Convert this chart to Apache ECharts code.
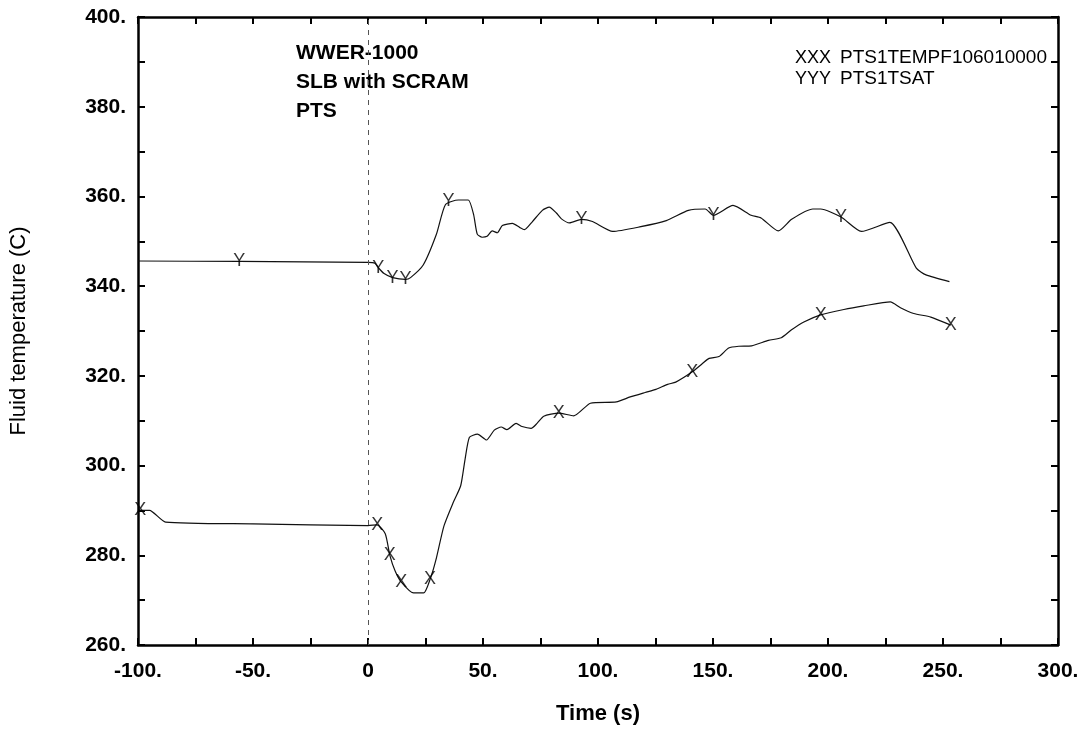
<!DOCTYPE html>
<html>
<head>
<meta charset="utf-8">
<script src="https://cdn.jsdelivr.net/npm/echarts@6/dist/echarts.min.js"></script>
<style>
html,body{margin:0;padding:0;background:#fff;}
#chart{width:1080px;height:730px;}
</style>
</head>
<body>
<div id="chart"></div>
<script>
// ---- data ----
const xTickValues = [-100, -50, 0, 50, 100, 150, 200, 250, 300];
const xTickLabels = ['-100.', '-50.', '0', '50.', '100.', '150.', '200.', '250.', '300.'];
const yTickValues = [260, 280, 300, 320, 340, 360, 380, 400];
const yTickLabels = ['260.', '280.', '300.', '320.', '340.', '360.', '380.', '400.'];

// PTS1TEMPF106010000 (XXX)
const timeF = [-99, -95, -88, -50, 0, 3.9, 7.5, 9.5, 11.8, 14.5, 19.8, 24.2, 27.1, 29.5, 33.0, 37.0, 40.3, 42.2, 44.1, 47.6, 51.5, 54.9, 57.9, 60.4, 64.4, 67, 70.9, 73.5, 76.4, 82.9, 89.5, 96.7, 108.0, 114.0, 120.5, 125.2, 130.3, 133.8, 141.0, 145.3, 148.3, 152.6, 156.8, 161.2, 166.8, 174.1, 179.7, 184.0, 189.5, 196.8, 206.9, 215.5, 227.1, 231.5, 237.3, 244.7, 253.4];
const tempF = [290.0, 290.0, 287.4, 287.0, 286.6, 286.8, 284.8, 280.0, 276.5, 274.0, 271.6, 271.6, 274.8, 278.9, 286.5, 291.7, 295.5, 301.4, 306.3, 307.0, 305.7, 307.9, 308.6, 308.0, 309.4, 308.7, 308.3, 309.4, 311.0, 311.7, 311.1, 313.9, 314.2, 315.3, 316.3, 317.0, 318.1, 318.6, 320.9, 322.7, 323.9, 324.3, 326.2, 326.6, 326.7, 327.9, 328.5, 330.2, 332.0, 333.6, 334.8, 335.6, 336.5, 335.2, 333.9, 333.1, 331.3];
const markTimeF = [-99, 4, 9.5, 14.5, 27, 82.9, 141.0, 196.8, 253.4];
const markTempF = [290.0, 286.8, 280.0, 274.0, 274.8, 311.7, 320.9, 333.6, 331.3];

// PTS1TSAT (YYY)
const timeS = [-100, -56, 0, 3, 4.5, 7, 10.7, 16.3, 18.5, 24.0, 29.7, 33.7, 39.3, 43.6, 45.9, 47.5, 49.6, 51.8, 54.0, 56.2, 58.4, 62.8, 65.9, 68, 71.5, 75.8, 78.8, 81.9, 84.1, 87.6, 92.8, 97.6, 106.4, 118.1, 129.7, 139.3, 146.6, 150.2, 158.7, 166.6, 170.9, 178.4, 184.2, 193.4, 196.8, 205.7, 214.5, 226.9, 238.4, 242.6, 252.8];
const tempS = [345.6, 345.5, 345.3, 345.1, 344.1, 342.8, 341.9, 341.5, 341.9, 344.7, 351.5, 358.2, 359.2, 359.2, 356.0, 351.6, 350.9, 351.1, 352.3, 351.9, 353.5, 354.0, 353.1, 352.6, 354.4, 356.9, 357.6, 356.3, 355.0, 354.1, 354.9, 354.4, 352.2, 353.2, 354.6, 356.9, 357.2, 355.8, 358.0, 355.8, 355.2, 352.3, 354.9, 357.2, 357.2, 355.4, 352.2, 354.2, 344.0, 342.5, 341.0];
const markTimeS = [-56, 4.5, 10.7, 16.3, 35.0, 92.8, 150.2, 205.7];
const markTempS = [345.5, 344.1, 341.9, 341.5, 358.9, 354.9, 355.8, 355.4];

const seriesNames = ['PTS1TEMPF106010000', 'PTS1TSAT'];
const annotation = ['WWER-1000', 'SLB with SCRAM', 'PTS'];

// ---- chart ----
const FONT = '"Liberation Sans", Arial, Helvetica, sans-serif';
const zip = (a, b) => a.map((v, i) => [v, b[i]]);

const axisLineStyle = { color: '#000', width: 2.5 };
const tickStyle = { show: true, inside: true, length: 7, lineStyle: { color: '#000', width: 2 } };

const chart = echarts.init(document.getElementById('chart'), null, { renderer: 'canvas' });

chart.setOption({
  animation: false,
  backgroundColor: '#fff',
  grid: { left: 138, right: 22, top: 17, bottom: 85, containLabel: false, outerBoundsMode: 'none' },
  xAxis: [{
    type: 'value', min: -100, max: 300, interval: 25, position: 'bottom',
    name: 'Time (s)', nameLocation: 'middle', nameGap: 58,
    nameTextStyle: { fontFamily: FONT, fontWeight: 'bold', fontSize: 22, color: '#000' },
    axisLine: { show: true, onZero: false, lineStyle: axisLineStyle },
    axisTick: tickStyle,
    splitLine: { show: false },
    axisLabel: {
      margin: 16, fontFamily: FONT, fontWeight: 'bold', fontSize: 21, color: '#000',
      formatter: v => { const i = xTickValues.indexOf(v); return i >= 0 ? xTickLabels[i] : ''; }
    }
  }, {
    type: 'value', min: -100, max: 300, interval: 25, position: 'top',
    axisLine: { show: true, onZero: false, lineStyle: axisLineStyle },
    axisTick: tickStyle, axisLabel: { show: false }, splitLine: { show: false }
  }],
  yAxis: [{
    type: 'value', min: 260, max: 400, interval: 10, position: 'left',
    name: 'Fluid temperature (C)', nameLocation: 'middle', nameGap: 108, nameRotate: 90,
    nameTextStyle: { fontFamily: FONT, fontSize: 22, color: '#000' },
    axisLine: { show: true, onZero: false, lineStyle: axisLineStyle },
    axisTick: tickStyle,
    splitLine: { show: false },
    axisLabel: {
      margin: 12, fontFamily: FONT, fontWeight: 'bold', fontSize: 21, color: '#000',
      formatter: v => { const i = yTickValues.indexOf(v); return i >= 0 ? yTickLabels[i] : ''; }
    }
  }, {
    type: 'value', min: 260, max: 400, interval: 10, position: 'right',
    axisLine: { show: true, onZero: false, lineStyle: axisLineStyle },
    axisTick: tickStyle, axisLabel: { show: false }, splitLine: { show: false }
  }],
  series: [{
    name: seriesNames[0], type: 'line', data: zip(timeF, tempF),
    showSymbol: false, smooth: 0.2,
    lineStyle: { color: '#111', width: 1.2 },
    markLine: {
      silent: true, symbol: ['none', 'none'], label: { show: false },
      lineStyle: { type: [5, 5], color: '#555', width: 1 },
      data: [{ xAxis: 0 }]
    }
  }, {
    name: seriesNames[1], type: 'line', data: zip(timeS, tempS),
    showSymbol: false, smooth: 0.2,
    lineStyle: { color: '#111', width: 1.2 }
  }, {
    name: 'XXX', type: 'scatter', data: zip(markTimeF, markTempF),
    symbolSize: 1, itemStyle: { color: 'rgba(0,0,0,0)' },
    label: { show: true, position: 'inside', formatter: 'X', fontFamily: FONT, fontSize: 18, color: '#000' },
    z: 5
  }, {
    name: 'YYY', type: 'scatter', data: zip(markTimeS, markTempS),
    symbolSize: 1, itemStyle: { color: 'rgba(0,0,0,0)' },
    label: { show: true, position: 'inside', formatter: 'Y', fontFamily: FONT, fontSize: 18, color: '#000' },
    z: 5
  }],
  graphic: [
    { type: 'text', x: 296, y: 53, style: { text: annotation[0], font: 'bold 21px ' + FONT, fill: '#000', verticalAlign: 'middle', textVerticalAlign: 'middle' } },
    { type: 'text', x: 296, y: 82, style: { text: annotation[1], font: 'bold 21px ' + FONT, fill: '#000', verticalAlign: 'middle', textVerticalAlign: 'middle' } },
    { type: 'text', x: 296, y: 111, style: { text: annotation[2], font: 'bold 21px ' + FONT, fill: '#000', verticalAlign: 'middle', textVerticalAlign: 'middle' } },
    { type: 'text', x: 795, y: 58, style: { text: 'XXX', font: '18px ' + FONT, fill: '#000', verticalAlign: 'middle', textVerticalAlign: 'middle' } },
    { type: 'text', x: 840, y: 58, style: { text: seriesNames[0], font: '19px ' + FONT, fill: '#000', verticalAlign: 'middle', textVerticalAlign: 'middle' } },
    { type: 'text', x: 795, y: 79, style: { text: 'YYY', font: '18px ' + FONT, fill: '#000', verticalAlign: 'middle', textVerticalAlign: 'middle' } },
    { type: 'text', x: 840, y: 79, style: { text: seriesNames[1], font: '19px ' + FONT, fill: '#000', verticalAlign: 'middle', textVerticalAlign: 'middle' } }
  ]
});
</script>
</body>
</html>
